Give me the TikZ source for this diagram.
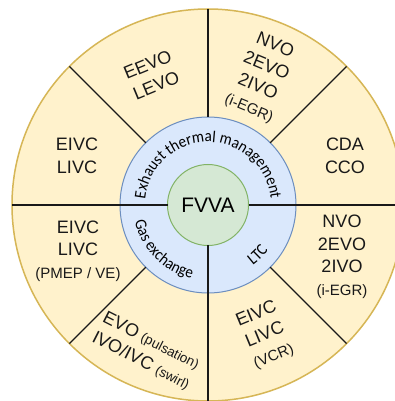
\documentclass[tikz,border=0pt]{standalone}
\usepackage{fontspec}
\setmainfont{Liberation Sans}
\newfontfamily\arcfont[FakeStretch=0.92]{Carlito}
\usetikzlibrary{decorations.text}
\definecolor{sectorfill}{HTML}{FFF2CC}
\definecolor{sectordraw}{HTML}{D6B656}
\definecolor{ringfill}{HTML}{DAE8FC}
\definecolor{ringdraw}{HTML}{6C8EBF}
\definecolor{hubfill}{HTML}{D5E8D4}
\definecolor{hubdraw}{HTML}{82B366}
\newcommand\arcsize{\arcfont\fontsize{16.5}{18}\selectfont}
\newcommand\smallpar{\fontsize{15}{18}\selectfont}
\newcommand\tinypar{\fontsize{13.5}{16}\selectfont}
\begin{document}
\begin{tikzpicture}[x=1pt,y=1pt,
  disc/.style={circle, draw, inner sep=0pt, outer sep=0pt},
  spoke/.style={draw=black!90, line width=1.2pt},
  lbl/.style={align=center, inner sep=0pt, font=\fontsize{18}{22.5}\selectfont, text=black!90},
  arclbl/.style={decorate, decoration={text along path, text align=center, text={|\arcsize|#1}}}
]
\fill[white] (-208,-196) rectangle (187,205);
\useasboundingbox (-208,-196) rectangle (187,205);
\node[disc, fill=sectorfill, draw=sectordraw, line width=1.5pt, minimum size=392pt] (outer) at (0,0) {};
\node[disc, fill=ringfill, draw=ringdraw, line width=1pt, minimum size=176pt] (ring) at (0,0) {};
\node[disc, fill=hubfill, draw=hubdraw, line width=1pt, minimum size=81pt, font=\fontsize{21}{21}\selectfont] (hub) at (0,0) {FVVA};
\draw[spoke] (hub.180) -- (outer.180);
\draw[spoke] (hub.0) -- (outer.0);
\draw[spoke] (hub.270) -- (outer.270);
\draw[spoke] (ring.90) -- (outer.90);
\foreach \a in {45,135,225,315} \draw[spoke] (ring.\a) -- (outer.\a);
\path[arclbl={Exhaust thermal management}] (180:63) arc[start angle=180, end angle=0, radius=63];
\path[arclbl={Gas exchange}] (180:75) arc[start angle=180, end angle=270, radius=75];
\path[arclbl={LTC}] (270:75) arc[start angle=270, end angle=360, radius=75];
\node[lbl, rotate=22.5] (eevo) at (-56,130) {EEVO\\LEVO};
\node[lbl, rotate=-22.5] (nvoa) at (54,128) {NVO\\2EVO\\2IVO\\{\smallpar(i-EGR)}};
\node[lbl] (cda) at (137,49) {CDA\\CCO};
\node[lbl] (eivca) at (-131,49) {EIVC\\LIVC};
\node[lbl] (eivcb) at (-130,-46) {EIVC\\LIVC\\{\smallpar(PMEP / VE)}};
\node[lbl] (nvob) at (134,-52) {NVO\\2EVO\\2IVO\\{\smallpar(i-EGR)}};
\node[lbl, rotate=22.5] (eivcc) at (57,-130) {EIVC\\LIVC\\{\smallpar(VCR)}};
\node[lbl, rotate=-27] (evo) at (-62,-146) {EVO {\tinypar(pulsation)}\\IVO/IVC {\tinypar(swirl)}};
\end{tikzpicture}
\end{document}
